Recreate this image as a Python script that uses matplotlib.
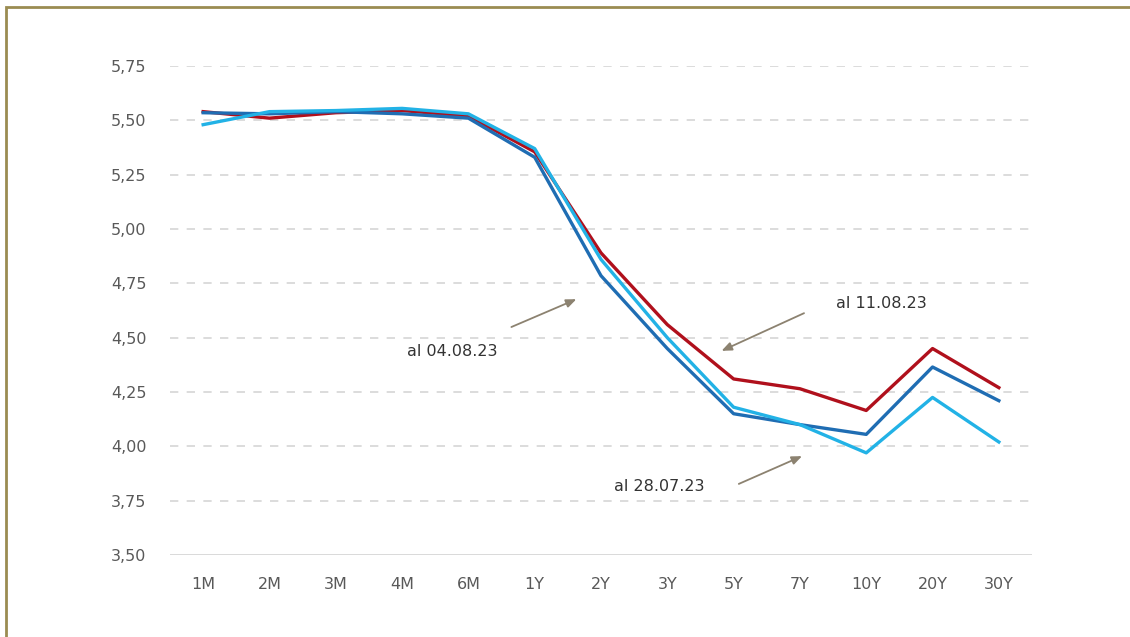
import matplotlib
matplotlib.use("Agg")
import matplotlib.pyplot as plt
from matplotlib.patches import Rectangle
from matplotlib.ticker import FuncFormatter

categories = ["1M", "2M", "3M", "4M", "6M", "1Y", "2Y", "3Y", "5Y", "7Y", "10Y", "20Y", "30Y"]
al_11_08_23 = [5.54, 5.51, 5.535, 5.545, 5.52, 5.355, 4.89, 4.56, 4.31, 4.265, 4.165, 4.45, 4.27]
al_04_08_23 = [5.535, 5.53, 5.54, 5.53, 5.51, 5.33, 4.785, 4.45, 4.15, 4.10, 4.055, 4.365, 4.21]
al_28_07_23 = [5.48, 5.54, 5.545, 5.555, 5.53, 5.37, 4.86, 4.50, 4.18, 4.10, 3.97, 4.225, 4.02]
yticks = [3.50, 3.75, 4.00, 4.25, 4.50, 4.75, 5.00, 5.25, 5.50, 5.75]

W, H = 1130, 637
fig = plt.figure(figsize=(W / 100, H / 100), dpi=100)
fig.patch.set_facecolor("white")

# olive frame
fig.patches.append(Rectangle((6 / W, -0.1), 2.0, 1 - 7 / H + 0.1, transform=fig.transFigure,
                             fill=False, edgecolor="#9A8C52", linewidth=2.0, zorder=0))

ax = fig.add_axes([170 / W, 1 - 555 / H, (1032 - 170) / W, (555 - 66) / H])
x = list(range(len(categories)))

ax.plot(x, al_11_08_23, color="#B0101C", lw=2.4, zorder=3, solid_joinstyle="round")
ax.plot(x, al_04_08_23, color="#1F6DB3", lw=2.4, zorder=4, solid_joinstyle="round")
ax.plot(x, al_28_07_23, color="#22B2E6", lw=2.4, zorder=5, solid_joinstyle="round")

ax.set_xlim(-0.5, len(categories) - 0.5)
ax.set_ylim(3.50, 5.75)
ax.set_yticks(yticks)
ax.yaxis.set_major_formatter(FuncFormatter(lambda v, p: f"{v:.2f}".replace(".", ",")))
ax.set_xticks(x)
ax.set_xticklabels(categories)

for t in yticks[1:]:
    ax.axhline(t, color="#D6D6D6", lw=1.2, ls=(0, (5, 5)), zorder=1)
ax.axhline(3.50, color="#D9D9D9", lw=1.4, zorder=1)

for s in ax.spines.values():
    s.set_visible(False)
ax.tick_params(axis="both", length=0, labelsize=11.5, labelcolor="#595959")
ax.tick_params(axis="y", pad=17)
ax.tick_params(axis="x", pad=16)
for lab in ax.get_xticklabels() + ax.get_yticklabels():
    lab.set_fontfamily("DejaVu Sans")

arrow_kw = dict(arrowstyle="-|>,head_length=0.6,head_width=0.25", color="#8C8270", lw=1.3)
txt_kw = dict(fontsize=11.5, color="#333333", family="DejaVu Sans", ha="center", va="center")

ax.annotate("", xy=(5.667, 4.682), xytext=(4.61, 4.544), arrowprops=arrow_kw)
ax.text(3.76, 4.438, "al 04.08.23", **txt_kw)

ax.annotate("", xy=(7.78, 4.434), xytext=(9.10, 4.618), arrowprops=arrow_kw)
ax.text(10.23, 4.655, "al 11.08.23", **txt_kw)

ax.annotate("", xy=(9.07, 3.96), xytext=(8.04, 3.822), arrowprops=arrow_kw)
ax.text(6.88, 3.813, "al 28.07.23", **txt_kw)

fig.savefig("out.png", dpi=100)
